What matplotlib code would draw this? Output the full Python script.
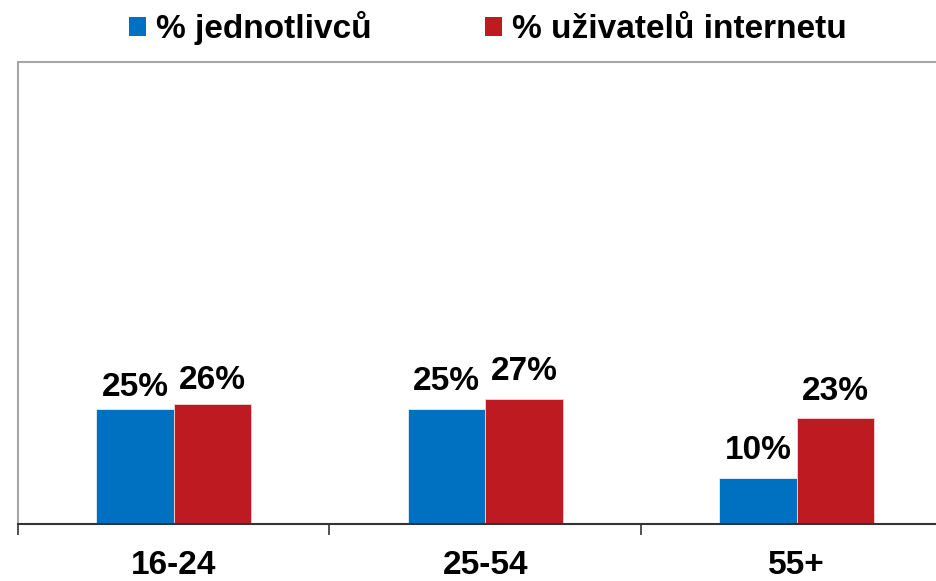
import numpy as np
import matplotlib
matplotlib.use('Agg')
import matplotlib.pyplot as plt
from matplotlib.patches import Patch

plt.rcParams['font.family'] = ['Liberation Sans', 'DejaVu Sans']
plt.rcParams['font.weight'] = 'bold'

# data
groups = ['16-24', '25-54', '55+']
pct_individuals = [25, 25, 10]
pct_internet_users = [26, 27, 23]
series_names = ['% jednotlivců', '% uživatelů internetu']

# label gap above bar tops (pixels), hand placed in the original
gap_blue = [13, 19, 19]
gap_red = [15, 19, 18]

blue = '#0070C0'
red = '#BE1A22'

fig = plt.figure(figsize=(9.36, 5.81), dpi=100)
# plot area runs past the right edge of the picture, like the original
ax = fig.add_axes([18/936, 1 - 524/581, 934.5/936, 462/581])

x = np.arange(len(groups))
w = 0.249
b1 = ax.bar(x - w/2, pct_individuals, w, color=blue, edgecolor='#e8eef6', linewidth=0.6)
b2 = ax.bar(x + w/2, pct_internet_users, w, color=red, edgecolor='#f2d6d6', linewidth=0.6)

for rect, v, g in zip(b1, pct_individuals, gap_blue):
    ax.annotate('%d%%' % v, (rect.get_x() + rect.get_width()/2, v),
                xytext=(0, g*0.72), textcoords='offset points',
                ha='center', va='baseline', fontsize=24, fontweight='bold')
for rect, v, g in zip(b2, pct_internet_users, gap_red):
    ax.annotate('%d%%' % v, (rect.get_x() + rect.get_width()/2, v),
                xytext=(0, g*0.72), textcoords='offset points',
                ha='center', va='baseline', fontsize=24, fontweight='bold')

ax.set_xlim(-0.5, len(groups) - 0.5)
ax.set_ylim(0, 100)
ax.set_yticks([])
ax.set_xticks(x)
ax.set_xticklabels(groups, fontsize=24, fontweight='bold')
ax.tick_params(axis='x', which='major', length=0, pad=19)
ax.set_xticks(np.arange(len(groups) + 1) - 0.5, minor=True)
ax.tick_params(axis='x', which='minor', length=8, width=1.2, color='#333333', direction='out')

for s in ['top', 'left', 'right']:
    ax.spines[s].set_color('#a6a6a6')
    ax.spines[s].set_linewidth(1.5)
ax.spines['bottom'].set_color('#333333')
ax.spines['bottom'].set_linewidth(1.5)

handles = [Patch(facecolor=blue), Patch(facecolor=red)]
fig.legend(handles, series_names, loc='center', bbox_to_anchor=(488/936, 1 - 28/581),
           ncol=2, frameon=False, fontsize=24, prop={'weight': 'bold', 'size': 24},
           handlelength=0.5, handleheight=0.5, handletextpad=0.3,
           columnspacing=3.4, borderpad=0, borderaxespad=0)

fig.savefig('out.png', dpi=100)
